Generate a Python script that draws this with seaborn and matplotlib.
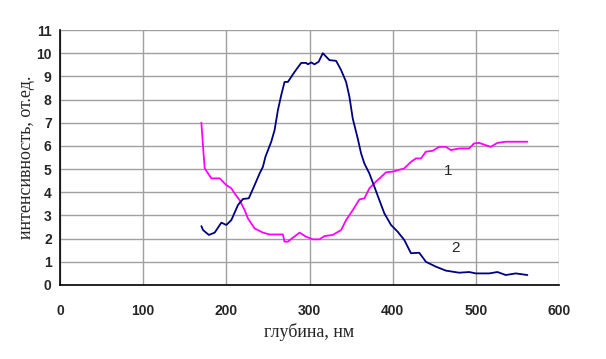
import matplotlib
matplotlib.use("Agg")
import matplotlib.pyplot as plt
import seaborn as sns
import pandas as pd

depth_1 = [170, 172, 174, 182, 192, 200, 206, 210, 216, 222, 226, 234, 244, 252, 268, 270, 274,
           288, 296, 304, 312, 318, 328, 338, 344, 352, 360, 366, 372, 380, 392, 400, 414, 422,
           428, 434, 440, 448, 456, 464, 470, 480, 492, 498, 504, 512, 518, 526, 536, 562]
intensity_1 = [7.0, 5.96, 5.03, 4.6, 4.6, 4.31, 4.17, 3.95, 3.66, 3.23, 2.87, 2.44, 2.26, 2.18, 2.18,
               1.87, 1.87, 2.26, 2.08, 1.97, 1.97, 2.11, 2.16, 2.37, 2.8, 3.23, 3.69, 3.74, 4.17,
               4.46, 4.86, 4.89, 5.03, 5.31, 5.46, 5.46, 5.75, 5.79, 5.96, 5.96, 5.82, 5.89, 5.89,
               6.11, 6.13, 6.03, 5.96, 6.13, 6.18, 6.18]

depth_2 = [170, 172, 179, 186, 194, 200, 206, 214, 220, 227, 234, 240, 244, 247, 254, 258, 262, 266,
           270, 274, 282, 290, 296, 298, 302, 306, 311, 316, 324, 332, 338, 344, 348, 352, 358,
           362, 366, 372, 378, 384, 390, 398, 406, 414, 422, 432, 440, 452, 464, 480, 492, 500,
           516, 526, 536, 548, 562]
intensity_2 = [2.54, 2.37, 2.16, 2.26, 2.69, 2.59, 2.8, 3.45, 3.71, 3.74, 4.31, 4.81, 5.10, 5.53,
               6.18, 6.68, 7.54, 8.19, 8.76, 8.76, 9.19, 9.58, 9.58, 9.52, 9.6, 9.52, 9.63, 10.0,
               9.70, 9.67, 9.27, 8.76, 8.12, 7.18, 6.32, 5.68, 5.24, 4.81, 4.24, 3.66, 3.09, 2.59,
               2.30, 1.94, 1.37, 1.39, 1.0, 0.79, 0.62, 0.53, 0.56, 0.50, 0.50, 0.56, 0.43, 0.50, 0.43]

x_ticks = [0, 100, 200, 300, 400, 500, 600]
y_ticks = list(range(0, 12))
x_label = "глубина, нм"
y_label = "интенсивность, от.ед."
curve_labels = ["1", "2"]

sns.set_style("white")

df1 = pd.DataFrame({"depth": depth_1, "val": intensity_1})
df2 = pd.DataFrame({"depth": depth_2, "val": intensity_2})

fig = plt.figure(figsize=(6.06, 3.59), dpi=100)
ax = fig.add_axes([60 / 606, 1 - 285 / 359, (559 - 60) / 606, (285 - 30) / 359])

sns.lineplot(data=df1, x="depth", y="val", ax=ax, color="#FF00FF", lw=1.3,
             sort=False, estimator=None)
sns.lineplot(data=df2, x="depth", y="val", ax=ax, color="#000080", lw=1.3,
             sort=False, estimator=None)

ax.set_xlim(0, 600)
ax.set_ylim(0, 11)
ax.set_xticks(x_ticks)
ax.set_yticks(y_ticks)
ax.grid(True, color="#A0A0A0", lw=1.0)
ax.set_axisbelow(True)
for s in ["top", "right"]:
    ax.spines[s].set_visible(False)
for s in ["left", "bottom"]:
    ax.spines[s].set_color("black")
    ax.spines[s].set_linewidth(1.2)
ax.tick_params(direction="in", length=4, width=1.2, color="black")
ax.tick_params(axis="x", pad=14)
ax.tick_params(axis="y", pad=6)
for lab in ax.get_xticklabels() + ax.get_yticklabels():
    lab.set_fontfamily("Liberation Sans")
    lab.set_fontweight("bold")
    lab.set_fontsize(10)

ax.set_xlabel(x_label, family="Liberation Serif", fontsize=13, labelpad=3)
ax.set_ylabel(y_label, family="Liberation Serif", fontsize=13, labelpad=1)

ax.text(467, 4.9, curve_labels[0], family="Liberation Sans", fontsize=11, ha="center", va="center")
ax.text(475, 1.6, curve_labels[1], family="Liberation Sans", fontsize=11, ha="center", va="center")

fig.savefig("out.png", dpi=100)
